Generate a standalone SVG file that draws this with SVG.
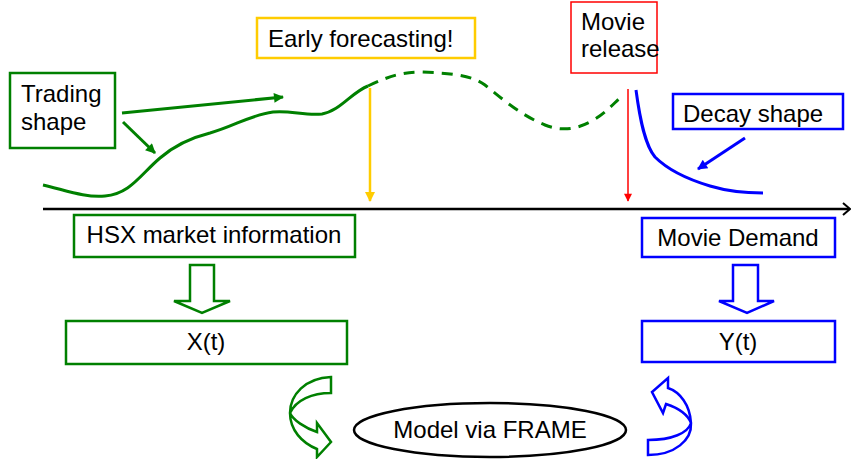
<svg xmlns="http://www.w3.org/2000/svg" width="851" height="459" viewBox="0 0 851 459">
<defs>
<style>
text{font-family:"Liberation Sans",Arial,sans-serif;font-size:24px;fill:#000}
.g{stroke:#008000}
.b{stroke:#0000ff}
.box{fill:#fff;stroke-width:2.5}
.c{text-anchor:middle}
</style>
<marker id="ag" viewBox="0 0 10 10" refX="9" refY="5" markerWidth="12" markerHeight="10" markerUnits="userSpaceOnUse" orient="auto"><path d="M0,0L10,5L0,10Z" fill="#008000"/></marker>
<marker id="ab" viewBox="0 0 10 10" refX="9" refY="5" markerWidth="12" markerHeight="10" markerUnits="userSpaceOnUse" orient="auto"><path d="M0,0L10,5L0,10Z" fill="#0000ff"/></marker>
<marker id="ay" viewBox="0 0 10 10" refX="9" refY="5" markerWidth="12" markerHeight="10" markerUnits="userSpaceOnUse" orient="auto"><path d="M0,0L10,5L0,10Z" fill="#ffcc00"/></marker>
<marker id="ar" viewBox="0 0 10 10" refX="9" refY="5" markerWidth="10" markerHeight="8" markerUnits="userSpaceOnUse" orient="auto"><path d="M0,0L10,5L0,10Z" fill="#ff0000"/></marker>
</defs>
<g id="connectors" fill="none">
<line x1="43" y1="209" x2="849" y2="209" stroke="#000" stroke-width="2.5"/>
<polyline points="843,203 850,209 843,215" stroke="#000" stroke-width="2"/>
<path class="g" stroke-width="3" d="M43,185 C65,190 85,198 105,196 C130,194 140,175 160,158 C175,145 190,138 210,133 C235,126 250,115 273,112 C290,110 305,116 322,114 C340,111 352,92 368,86"/>
<path class="g" stroke-width="3" stroke-dasharray="11,8" d="M368,86 C385,78 400,72 420,72 C445,73 470,74 485,85 C500,97 520,115 545,125 C560,131 575,130 590,122 C605,114 612,105 622,96"/>
<path class="b" stroke-width="3" d="M636,90 C640,120 645,145 655,157 C670,172 690,180 710,186 C730,192 745,193 763,193"/>
<line class="g" stroke-width="3" x1="122" y1="113" x2="283" y2="97" marker-end="url(#ag)"/>
<line class="g" stroke-width="3" x1="123" y1="122" x2="155" y2="153" marker-end="url(#ag)"/>
<line class="b" stroke-width="3" x1="745" y1="138" x2="698" y2="169" marker-end="url(#ab)"/>
<line stroke="#ffcc00" stroke-width="2.5" x1="370" y1="88" x2="370" y2="201" marker-end="url(#ay)"/>
<line stroke="#ff0000" stroke-width="1.5" x1="628" y1="89" x2="628" y2="201" marker-end="url(#ar)"/>
<path class="g" stroke-width="2.5" fill="#fff" d="M190,265 L214,265 L214,301 L230,301 L202,313 L174,301 L190,301 Z"/>
<path class="b" stroke-width="2.5" fill="#fff" d="M733,265 L758,265 L758,301 L774,301 L747,313 L719,301 L733,301 Z"/>
<path class="g" stroke-width="2.5" fill="#fff" d="M331,377 C305,378 290,395 290,413 C290,430 302,443 317,449 L317,457 L331,442 L317,423 L317,432 C305,428 293,420 290,413 C296,400 312,393 331,393 Z"/>
<path class="b" stroke-width="2.5" fill="#fff" d="M648,455 C675,455 692,440 691,423 C690,405 680,392 668,388 L668,378 L652,392 L663,413 L666,404 C678,408 688,415 691,423 C688,433 672,440 648,440 Z"/>
</g>
<g id="trading">
<rect class="box g" x="10" y="73" width="105" height="75"/>
<text x="21" y="102">Trading</text>
<text x="21" y="130">shape</text>
</g>
<g id="early">
<rect class="box" stroke="#ffcc00" x="257" y="18" width="218" height="40"/>
<text x="268" y="47">Early forecasting!</text>
</g>
<g id="release">
<rect fill="#fff" stroke="#ff0000" stroke-width="1.5" x="571" y="2" width="86" height="71"/>
<text x="581" y="30">Movie</text>
<text x="581" y="57">release</text>
</g>
<g id="decay">
<rect class="box b" x="673" y="94" width="170" height="35"/>
<text x="683" y="122">Decay shape</text>
</g>
<g id="hsx">
<rect class="box g" x="74" y="215" width="281" height="42"/>
<text class="c" x="214" y="243">HSX market information</text>
</g>
<g id="demand">
<rect class="box b" x="642" y="218" width="193" height="39"/>
<text class="c" x="738" y="246">Movie Demand</text>
</g>
<g id="xt">
<rect class="box g" x="66" y="321" width="281" height="43"/>
<text class="c" x="206" y="350">X(t)</text>
</g>
<g id="yt">
<rect class="box b" x="642" y="321" width="193" height="41"/>
<text class="c" x="738" y="350">Y(t)</text>
</g>
<g id="model">
<ellipse cx="490" cy="430" rx="136" ry="27" fill="#fff" stroke="#000" stroke-width="2.5"/>
<text class="c" x="490" y="438">Model via FRAME</text>
</g>
</svg>
